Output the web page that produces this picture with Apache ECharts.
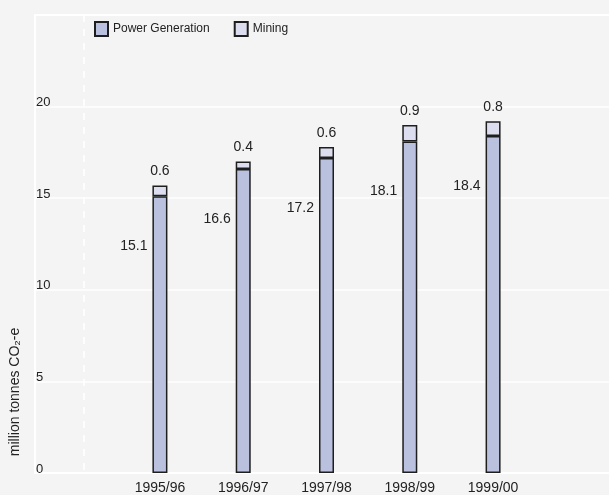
<!DOCTYPE html>
<html>
<head>
<meta charset="utf-8">
<script src="https://cdn.jsdelivr.net/npm/echarts@6/dist/echarts.min.js"></script>
<style>
  html, body { margin: 0; padding: 0; background: #f4f4f4; overflow: hidden; }
  /* plot runs a little past the right edge of the window, as in the original */
  #main { width: 618px; height: 495px; }
</style>
</head>
<body>
<div id="main"></div>
<script>
// years, with an empty slot before and after
var years = ['', '1995/96', '1996/97', '1997/98', '1998/99', '1999/00', ''];
var powerGeneration = [null, 15.1, 16.6, 17.2, 18.1, 18.4, null];
var mining = [null, 0.6, 0.4, 0.6, 0.9, 0.8, null];
var yTicks = [0, 5, 10, 15, 20, 25];

var font = '"Liberation Sans", Arial, sans-serif';

var myChart = echarts.init(document.getElementById('main'));
var option = {
  backgroundColor: '#f4f4f4',
  textStyle: { fontFamily: font, color: '#222' },
  legend: {
    left: 89,
    top: 16,
    icon: 'rect',
    itemWidth: 13,
    itemHeight: 14,
    itemGap: 24,
    textStyle: { fontFamily: font, fontSize: 12, color: '#222' },
    data: ['Power Generation', 'Mining']
  },
  grid: {
    left: 35,
    top: 15,
    bottom: 22,
    right: 0,
    show: true,
    borderColor: '#fff',
    borderWidth: 1.5
  },
  xAxis: {
    type: 'category',
    data: years,
    axisLine: { show: true, lineStyle: { color: '#fff', width: 2 } },
    axisTick: { show: false },
    axisLabel: { fontFamily: font, fontSize: 14, color: '#222', margin: 8 }
  },
  yAxis: {
    type: 'value',
    min: yTicks[0],
    max: yTicks[yTicks.length - 1],
    interval: 5,
    axisLine: { show: true, lineStyle: { color: '#fff', width: 2 } },
    axisTick: { show: false },
    splitLine: { lineStyle: { color: '#fff', width: 1.5 } },
    axisLabel: {
      inside: true,
      margin: 1,
      showMaxLabel: false,
      verticalAlign: 'bottom',
      lineHeight: 8,
      fontFamily: font,
      fontSize: 13,
      color: '#222'
    }
  },
  graphic: [
    {
      type: 'line',
      shape: { x1: 84, y1: 15, x2: 84, y2: 473 },
      style: { stroke: '#fff', lineWidth: 1.5, lineDash: [7, 7] },
      z: 1
    },
    {
      type: 'text',
      x: 15,
      y: 392,
      rotation: Math.PI / 2,
      style: {
        text: 'million tonnes CO₂-e',
        font: '14px ' + font,
        fill: '#222',
        align: 'center',
        verticalAlign: 'middle'
      }
    }
  ],
  series: [
    {
      name: 'Power Generation',
      type: 'bar',
      stack: 'total',
      barWidth: 15,
      data: powerGeneration,
      itemStyle: { color: '#b9c1de', borderColor: '#1e1e1e', borderWidth: 1.5 },
      label: {
        show: true,
        position: [-5, 50],
        align: 'right',
        verticalAlign: 'middle',
        fontFamily: font,
        fontSize: 14,
        color: '#222'
      }
    },
    {
      name: 'Mining',
      type: 'bar',
      stack: 'total',
      barWidth: 15,
      data: mining,
      itemStyle: { color: '#dcdeef', borderColor: '#1e1e1e', borderWidth: 1.5 },
      label: {
        show: true,
        position: 'top',
        distance: 7,
        fontFamily: font,
        fontSize: 14,
        color: '#222'
      }
    }
  ]
};
myChart.setOption(option, true);
</script>
</body>
</html>
